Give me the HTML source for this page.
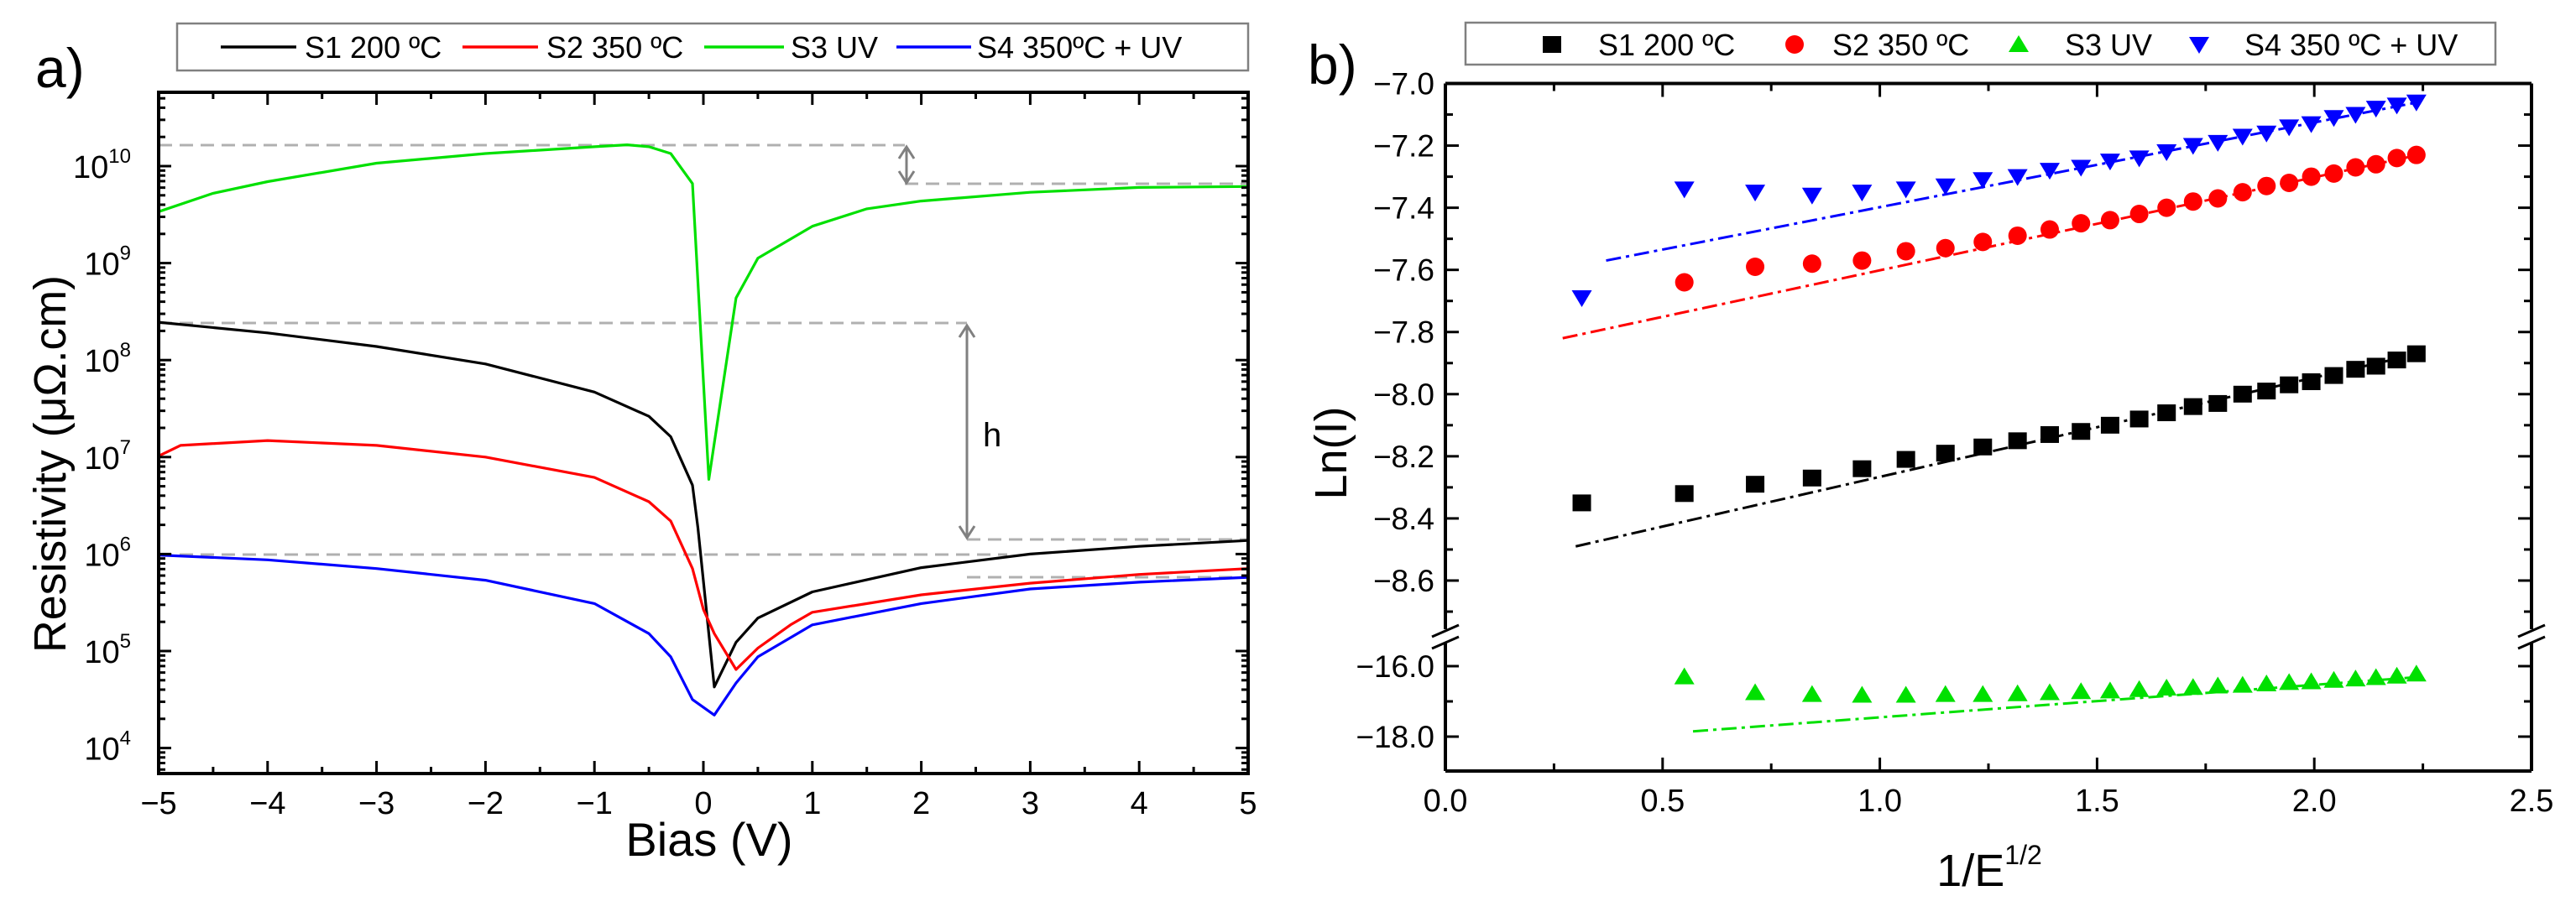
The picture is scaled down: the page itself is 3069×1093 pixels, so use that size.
<!DOCTYPE html>
<html><head><meta charset="utf-8"><style>
html,body{margin:0;padding:0;background:#fff;}
svg{display:block;font-family:"Liberation Sans",Arial,sans-serif;}
</style></head><body>
<svg id="fig" width="3069" height="1093" viewBox="0 0 3069 1093" xmlns="http://www.w3.org/2000/svg">
<rect width="3069" height="1093" fill="#fff"/>
<g id="pa"></g>
<g id="pb"></g>
</svg>
<script>
// ---- Panel a data (log10 resistivity vs bias) ----
const biasS1=[-5,-4,-3,-2,-1,-0.5,-0.3,-0.1,-0.05,0.1,0.3,0.5,1,2,3,4,5];
const logS1=[8.39,8.28,8.14,7.96,7.67,7.42,7.21,6.71,6.27,4.63,5.09,5.34,5.61,5.86,6.0,6.08,6.14];
const biasS2=[-5,-4.8,-4,-3,-2,-1,-0.5,-0.3,-0.1,0,0.1,0.3,0.5,0.8,1,2,3,4,5];
const logS2=[7.01,7.12,7.17,7.12,7.0,6.79,6.54,6.34,5.85,5.43,5.18,4.81,5.03,5.27,5.40,5.58,5.70,5.79,5.85];
const biasS3=[-5,-4.5,-4,-3,-2,-1,-0.7,-0.5,-0.3,-0.1,0.05,0.3,0.5,1,1.5,2,3,4,5];
const logS3=[9.53,9.72,9.84,10.03,10.13,10.2,10.22,10.2,10.13,9.82,6.77,8.64,9.05,9.38,9.56,9.64,9.73,9.78,9.79];
const biasS4=[-5,-4,-3,-2,-1,-0.5,-0.3,-0.1,0.1,0.3,0.5,1,2,3,4,5];
const logS4=[5.99,5.94,5.85,5.73,5.49,5.18,4.94,4.50,4.34,4.67,4.94,5.27,5.49,5.64,5.71,5.76];
const xTicksA=[-5,-4,-3,-2,-1,0,1,2,3,4,5];
const yDecadesA=[4,5,6,7,8,9,10];
// ---- Panel b data ----
const invE=[0.314,0.55,0.713,0.844,0.959,1.06,1.151,1.237,1.317,1.391,1.463,1.530,1.597,1.66,1.721,1.778,1.835,1.89,1.942,1.993,2.045,2.095,2.142,2.19,2.235];
const lnS1=[-8.35,-8.32,-8.29,-8.27,-8.24,-8.21,-8.19,-8.17,-8.15,-8.13,-8.12,-8.10,-8.08,-8.06,-8.04,-8.03,-8.00,-7.99,-7.97,-7.96,-7.94,-7.92,-7.91,-7.89,-7.87];
const lnS2=[null,-7.64,-7.59,-7.58,-7.57,-7.54,-7.53,-7.51,-7.49,-7.47,-7.45,-7.44,-7.42,-7.40,-7.38,-7.37,-7.35,-7.33,-7.32,-7.30,-7.29,-7.27,-7.26,-7.24,-7.23];
const lnS3=[null,-16.3,-16.75,-16.8,-16.82,-16.82,-16.8,-16.8,-16.78,-16.75,-16.72,-16.7,-16.66,-16.62,-16.6,-16.56,-16.54,-16.5,-16.46,-16.44,-16.4,-16.36,-16.32,-16.28,-16.22];
const lnS4=[-7.69,-7.34,-7.35,-7.36,-7.35,-7.34,-7.33,-7.31,-7.30,-7.28,-7.27,-7.25,-7.24,-7.22,-7.20,-7.19,-7.17,-7.16,-7.14,-7.13,-7.11,-7.10,-7.08,-7.07,-7.06];
const fitX=[[0.30,2.24],[0.27,2.24],[0.57,2.25],[0.37,2.24]];
const fitY=[[-8.49,-7.87],[-7.82,-7.23],[-17.85,-16.3],[-7.57,-7.06]];
const xTicksB=[0,0.5,1.0,1.5,2.0,2.5];
const yTicksUpper=[-7.0,-7.2,-7.4,-7.6,-7.8,-8.0,-8.2,-8.4,-8.6];
const yTicksLower=[-16.0,-18.0];

const NS="http://www.w3.org/2000/svg";
function mk(parent,tag,attrs,text){const e=document.createElementNS(NS,tag);for(const k in attrs)e.setAttribute(k,attrs[k]);if(text!==undefined)e.textContent=text;parent.appendChild(e);return e;}

// ================= Panel A =================
const pa=document.getElementById('pa');
const AL=189,AR=1487,AT=110,AB=922;
const xa=v=>AL+(v+5)*(AR-AL)/10;
const ya=l=>198+(10-l)*115.6;
let t;
t=mk(pa,'text',{x:42,y:104,'font-size':66});t.textContent='a)';


// dashed guides
const dash=[[189,1078,173],[1078,1487,219],[189,1152,385],[1152,1487,643],[189,1200,661],[1152,1487,688]];
dash.forEach(d=>{const l=mk(pa,'line',{x1:d[0],x2:d[1],y1:d[2],y2:d[2],stroke:'#b0b0b0','stroke-width':3,'stroke-dasharray':'16 9'});

});
// curves
const curvesA=[[biasS1,logS1,'#000','curve-s1'],[biasS2,logS2,'#ff0000','curve-s2'],[biasS3,logS3,'#00e000','curve-s3'],[biasS4,logS4,'#0000ff','curve-s4']];
curvesA.forEach(c=>{const pts=c[0].map((b,i)=>xa(b).toFixed(1)+','+ya(c[1][i]).toFixed(1)).join(' ');
const p=mk(pa,'polyline',{points:pts,fill:'none',stroke:c[2],'stroke-width':3.2,'stroke-linejoin':'round'});

});
// arrows
function darrow(g,x,y1,y2,name){const a=mk(g,'g',{stroke:'#808080','stroke-width':3,fill:'none'});


mk(a,'line',{x1:x,x2:x,y1:y1,y2:y2});
mk(a,'polyline',{points:`${x-9},${y1+14} ${x},${y1} ${x+9},${y1+14}`});
mk(a,'polyline',{points:`${x-9},${y2-14} ${x},${y2} ${x+9},${y2-14}`});}
darrow(pa,1080,175,218,'arrow-uv-drop');
darrow(pa,1152,388,641,'arrow-h');
t=mk(pa,'text',{x:1171,y:532,'font-size':40});t.textContent='h';


// frame
mk(pa,'rect',{x:AL,y:AT,width:AR-AL,height:AB-AT,fill:'none',stroke:'#000','stroke-width':4});
// x ticks
xTicksA.forEach(v=>{const x=xa(v);
mk(pa,'line',{x1:x,x2:x,y1:AB,y2:AB-15,stroke:'#000','stroke-width':3});
mk(pa,'line',{x1:x,x2:x,y1:AT,y2:AT+15,stroke:'#000','stroke-width':3});
if(v<5){const xm=xa(v+0.5);mk(pa,'line',{x1:xm,x2:xm,y1:AB,y2:AB-8,stroke:'#000','stroke-width':3});mk(pa,'line',{x1:xm,x2:xm,y1:AT,y2:AT+8,stroke:'#000','stroke-width':3});}
const lb=mk(pa,'text',{x:x,y:970,'font-size':38,'text-anchor':'middle'});lb.textContent=(v<0?'\u2212'+(-v):String(v));

});
// y ticks (log)
for(let d=3;d<=10;d++){for(let m=1;m<=9;m++){const l=d+Math.log10(m);const y=ya(l);if(y<AT||y>AB)continue;const len=m===1?15:8;
mk(pa,'line',{x1:AL,x2:AL+len,y1:y,y2:y,stroke:'#000','stroke-width':3});
mk(pa,'line',{x1:AR,x2:AR-len,y1:y,y2:y,stroke:'#000','stroke-width':3});}}
yDecadesA.forEach(d=>{const y=ya(d);const g=mk(pa,'text',{x:156,y:y+14,'font-size':38,'text-anchor':'end'});


mk(g,'tspan',{},'10');mk(g,'tspan',{'font-size':24,dy:-18},String(d));});
t=mk(pa,'text',{x:845,y:1020,'font-size':56,'text-anchor':'middle'});t.textContent='Bias (V)';


t=mk(pa,'text',{x:0,y:0,'font-size':54,'text-anchor':'middle',transform:'translate(78,553) rotate(-90)',textLength:450,lengthAdjust:'spacingAndGlyphs'});t.textContent='Resistivity (\u03bc\u03a9.cm)';


// legend a
const lga=mk(pa,'g',{});


mk(lga,'rect',{x:211,y:28,width:1276,height:56,fill:'#fff',stroke:'#808080','stroke-width':2.5});
[[263,353,363,'#000','S1 200 \u00baC'],[551,641,651,'#ff0000','S2 350 \u00baC'],[839,934,942,'#00e000','S3 UV'],[1068,1157,1164,'#0000ff','S4 350\u00baC + UV']].forEach(e=>{
const g=mk(lga,'g',{});


mk(g,'line',{x1:e[0],x2:e[1],y1:56,y2:56,stroke:e[3],'stroke-width':3.5});
mk(g,'text',{x:e[2],y:69,'font-size':36},e[4]);});

// ================= Panel B =================
const pb=document.getElementById('pb');
const BL=1722,BR=3016,BT=99.5,BB=919,BRK=755;
const xb=v=>BL+v*(BR-BL)/2.5;
const yu=v=>99.5+(-7-v)*370.3;
const yl=v=>794+(-16-v)*42;
const yb=v=>v<-12?yl(v):yu(v);
t=mk(pb,'text',{x:1558,y:100,'font-size':66});t.textContent='b)';


// fit lines
const fitCols=['#000','#ff0000','#00e000','#0000ff'];
fitX.forEach((fx,i)=>{const l=mk(pb,'line',{x1:xb(fx[0]),x2:xb(fx[1]),y1:yb(fitY[i][0]),y2:yb(fitY[i][1]),stroke:fitCols[i],'stroke-width':3,'stroke-dasharray':'18 6 4 6'});

});
// markers
function marker(g,type,x,y,c){
if(type==='sq')return mk(g,'rect',{x:x-11,y:y-10,width:22,height:20,fill:c});
if(type==='ci')return mk(g,'ellipse',{cx:x,cy:y,rx:11,ry:11,fill:c});
if(type==='up')return mk(g,'polygon',{points:`${x-12},${y+9} ${x+12},${y+9} ${x},${y-11}`,fill:c});
return mk(g,'polygon',{points:`${x-12},${y-9} ${x+12},${y-9} ${x},${y+11}`,fill:c});}
[[lnS1,'sq','#000','series-s1'],[lnS2,'ci','#ff0000','series-s2'],[lnS3,'up','#00e000','series-s3'],[lnS4,'dn','#0000ff','series-s4']].forEach(s=>{
const g=mk(pb,'g',{});


s[0].forEach((v,i)=>{if(v===null)return;const m=marker(g,s[1],xb(invE[i]),yb(v),s[2]);

});});
// frame with break
const fr=mk(pb,'g',{stroke:'#000','stroke-width':4,fill:'none'});


mk(fr,'line',{x1:BL,x2:BR,y1:BT,y2:BT});
mk(fr,'line',{x1:BL,x2:BR,y1:BB,y2:BB});
mk(fr,'line',{x1:BL,x2:BL,y1:BT,y2:BRK-5});mk(fr,'line',{x1:BL,x2:BL,y1:BRK+12,y2:BB});
mk(fr,'line',{x1:BR,x2:BR,y1:BT,y2:BRK-5});mk(fr,'line',{x1:BR,x2:BR,y1:BRK+12,y2:BB});
[BL,BR].forEach(x=>{mk(pb,'line',{x1:x-16,x2:x+16,y1:BRK+4,y2:BRK-10,stroke:'#000','stroke-width':3});mk(pb,'line',{x1:x-16,x2:x+16,y1:BRK+18,y2:BRK+4,stroke:'#000','stroke-width':3});});
// x ticks
xTicksB.forEach(v=>{const x=xb(v);
mk(pb,'line',{x1:x,x2:x,y1:BB,y2:BB-16,stroke:'#000','stroke-width':3});
mk(pb,'line',{x1:x,x2:x,y1:BT,y2:BT+16,stroke:'#000','stroke-width':3});
if(v<2.5){const xm=xb(v+0.25);mk(pb,'line',{x1:xm,x2:xm,y1:BB,y2:BB-9,stroke:'#000','stroke-width':3});mk(pb,'line',{x1:xm,x2:xm,y1:BT,y2:BT+9,stroke:'#000','stroke-width':3});}
const lb=mk(pb,'text',{x:x,y:967,'font-size':38,'text-anchor':'middle'});lb.textContent=v.toFixed(1);

});
// y ticks upper
for(let k=0;k<=17;k++){const v=-7-k*0.1;const y=yu(v);if(y>BRK-6)break;const len=(k%2===0)?16:9;
mk(pb,'line',{x1:BL,x2:BL+len,y1:y,y2:y,stroke:'#000','stroke-width':3});
mk(pb,'line',{x1:BR,x2:BR-len,y1:y,y2:y,stroke:'#000','stroke-width':3});}
yTicksUpper.forEach(v=>{const lb=mk(pb,'text',{x:1709,y:yu(v)+13,'font-size':37,'text-anchor':'end'});lb.textContent='\u2212'+(-v).toFixed(1);

});
[-16,-17,-18].forEach(v=>{const y=yl(v);const len=v===-17?9:16;
mk(pb,'line',{x1:BL,x2:BL+len,y1:y,y2:y,stroke:'#000','stroke-width':3});
mk(pb,'line',{x1:BR,x2:BR-len,y1:y,y2:y,stroke:'#000','stroke-width':3});});
yTicksLower.forEach(v=>{const lb=mk(pb,'text',{x:1709,y:yl(v)+13,'font-size':37,'text-anchor':'end'});lb.textContent='\u2212'+(-v).toFixed(1);

});
t=mk(pb,'text',{x:2370,y:1056,'font-size':54,'text-anchor':'middle'});


mk(t,'tspan',{},'1/E');mk(t,'tspan',{'font-size':32,dy:-26},'1/2');
t=mk(pb,'text',{x:0,y:0,'font-size':54,'text-anchor':'middle',transform:'translate(1604,540) rotate(-90)'});t.textContent='Ln(I)';


// legend b
const lgb=mk(pb,'g',{});


mk(lgb,'rect',{x:1746,y:27,width:1227,height:50,fill:'#fff',stroke:'#808080','stroke-width':2.5});
[[1849,1904,'sq','#000','S1 200 \u00baC'],[2138,2183,'ci','#ff0000','S2 350 \u00baC'],[2405,2460,'up','#00e000','S3 UV'],[2620,2674,'dn','#0000ff','S4 350 \u00baC + UV']].forEach(e=>{
const g=mk(lgb,'g',{});


marker(g,e[2],e[0],53,e[3]);
mk(g,'text',{x:e[1],y:66,'font-size':36},e[4]);});
</script>
</body></html>
